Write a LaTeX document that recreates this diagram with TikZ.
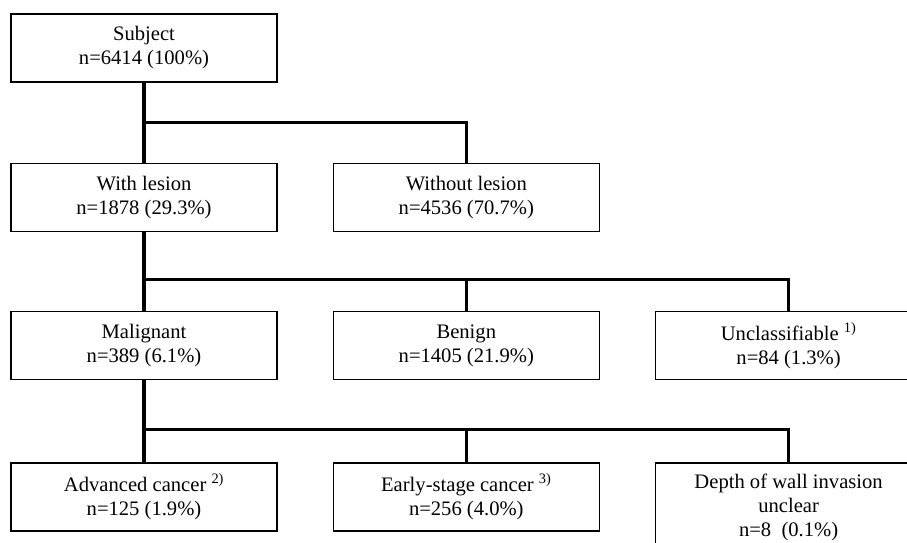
\documentclass[tikz,border=0pt]{standalone}
\usepackage{fontspec}
\setmainfont{Liberation Serif}
\usepackage{tikz}
\usetikzlibrary{positioning}

\begin{document}
\begin{tikzpicture}[x=1pt, y=-1pt, node distance=55pt, box/.style={rectangle, draw, line width=1.3pt, minimum width=266pt, minimum height=68pt, inner ysep=11pt, align=center, font=\fontsize{20.6}{24}\selectfont}, conn/.style={line width=3.4pt}]
\useasboundingbox (0,0) rectangle (907,543);
\clip (0,0) rectangle (907,543);
\node[box] (subject) at (144,48) {Subject\\n=6414 (100\%)};
\node[box, below=80pt of subject] (with) {With lesion\\n=1878 (29.3\%)};
\node[box, right=55pt of with] (without) {Without lesion\\n=4536 (70.7\%)};
\node[box, below=79pt of with] (malig) {Malignant\\n=389 (6.1\%)};
\node[box, right=55pt of malig] (benign) {Benign\\n=1405 (21.9\%)};
\node[box, right=55pt of benign] (unclass) {Unclassifiable \textsuperscript{1)}\\n=84 (1.3\%)};
\node[box, below=82pt of malig] (adv) {Advanced cancer \textsuperscript{2)}\\n=125 (1.9\%)};
\node[box, right=55pt of adv] (early) {Early-stage cancer \textsuperscript{3)}\\n=256 (4.0\%)};
\node[box, below=82pt of unclass] (depth) {Depth of wall invasion\\unclear\\n=8\ \ (0.1\%)};
% connectors
\path (subject.south) -- (with.north) coordinate[pos=0.5] (j1);
\path (with.south) -- (malig.north) coordinate[pos=0.6] (j2);
\path (malig.south) -- (adv.north) coordinate[pos=0.6] (j3);
\draw[conn] (subject.south) -- (with.north); \draw[conn] (j1) -| (without.north);
\draw[conn] (with.south) -- (malig.north); \draw[conn] (j2) -| (unclass.north); \draw[conn] (j2 -| benign.north) -- (benign.north);
\draw[conn] (malig.south) -- (adv.north); \draw[conn] (j3) -| (depth.north); \draw[conn] (j3 -| early.north) -- (early.north);
\end{tikzpicture}
\end{document}
